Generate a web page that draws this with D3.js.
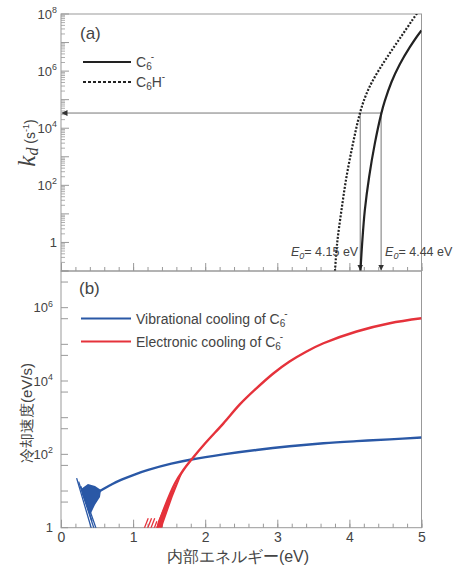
<!DOCTYPE html>
<html>
<head>
<meta charset="utf-8">
<script src="https://cdn.jsdelivr.net/npm/d3@7"></script>
<style>
body{margin:0;background:#fff;}
text{font-family:"Liberation Sans",Arial,sans-serif;fill:#444;}
</style>
</head>
<body>
<svg id="chart" width="457" height="567"></svg>
<script>
// ---- panel (a): dissociation rate k_d vs internal energy ----
const energy_C6 = [4.150, 4.177, 4.214, 4.274, 4.353, 4.443, 4.49, 4.584, 4.699, 4.838, 4.986, 5.0];
const kd_C6 = [0.071, 0.93, 13.5, 200, 2950, 33100, 89000, 417000, 1.74e6, 6.9e6, 2.4e7, 2.63e7];
const energy_C6H = [3.80, 3.83, 3.89, 3.96, 4.05, 4.145, 4.22, 4.31, 4.43, 4.57, 4.72, 4.86, 4.95];
const kd_C6H = [0.1, 0.93, 13.5, 200, 2950, 33100, 1.26e5, 4.0e5, 1.32e6, 4.6e6, 1.66e7, 5.5e7, 1.17e8];
const threshold_k = 3.4e4;
const E0_values = [4.15, 4.44];
const E0_labels = ["4.15 eV", "4.44 eV"];

// ---- panel (b): cooling rates ----
const energy_vib = [0.50, 0.60, 0.72, 0.84, 1.02, 1.21, 1.53, 1.81, 2.25, 2.71, 3.17, 3.64, 4.10, 4.56, 5.0];
const rate_vib = [8.9, 11.7, 15.8, 20.4, 28.2, 37.6, 55.6, 72.4, 100, 132, 166, 200, 229, 257, 288];
const energy_el = [1.33, 1.44, 1.58, 1.70, 1.81, 2.0, 2.25, 2.48, 2.71, 2.94, 3.17, 3.40, 3.64, 4.10, 4.56, 5.0];
const rate_el = [0.9, 3.7, 16, 38, 72, 200, 690, 2300, 6300, 15800, 33900, 63000, 107000, 224000, 376000, 513000];
// noisy low-energy parts of the simulation
const vib_fan = [[0.287, 11.8], [0.374, 15.5], [0.472, 13.7], [0.555, 10.6], [0.541, 6.9],
  [0.472, 4.2], [0.402, 2.2], [0.347, 4.2], [0.291, 8.3]];
const vib_streaks = [
  [[0.217, 22.4], [0.448, 0.63]],
  [[0.245, 18.0], [0.475, 0.75]],
  [[0.275, 13.5], [0.43, 1.5]],
  [[0.30, 11.0], [0.50, 0.8]]
];
const el_fan = [[1.70, 38], [1.55, 7], [1.42, 1.3], [1.39, 0.8], [1.31, 0.8], [1.35, 1.6], [1.46, 5], [1.62, 20]];
const el_streaks = [
  [[1.118, 0.63], [1.21, 1.82]],
  [[1.164, 0.63], [1.256, 1.82]],
  [[1.21, 0.63], [1.30, 1.82]],
  [[1.256, 0.63], [1.33, 1.5]]
];

const x_ticks = [0, 1, 2, 3, 4, 5];
const ka_labels = [1, 1e2, 1e4, 1e6, 1e8];
const kb_labels = [1, 1e2, 1e4, 1e6];

const blue = "#2a58a6", red = "#e5323b", axisCol = "#999";

const svg = d3.select("#chart");
const left = 61, right = 421.5;
const panelA = {top: 14, bottom: 271};
const panelB = {top: 271, bottom: 527.7};

const x = d3.scaleLinear().domain([0, 5]).range([left, right]);
const yA = d3.scaleLog().domain([0.1, 1e8]).range([panelA.bottom, panelA.top]);
const yB = d3.scaleLog().domain([1, 1e7]).range([panelB.bottom, panelB.top]);

const defs = svg.append("defs");
defs.append("clipPath").attr("id", "clipA").append("rect")
  .attr("x", left).attr("y", panelA.top).attr("width", right - left).attr("height", panelA.bottom - panelA.top);
defs.append("clipPath").attr("id", "clipB").append("rect")
  .attr("x", left).attr("y", panelB.top).attr("width", right - left).attr("height", panelB.bottom - panelB.top);
defs.append("marker").attr("id", "arrow")
  .attr("viewBox", "0 0 10 10").attr("refX", 10).attr("refY", 5)
  .attr("markerWidth", 6).attr("markerHeight", 6).attr("markerUnits", "userSpaceOnUse")
  .attr("orient", "auto-start-reverse")
  .append("path").attr("d", "M0,0L10,5L0,10Z").attr("fill", "#333");

/** x axes: major + minor ticks pointing up */
function xAxis(yPos, withLabels) {
  const gMinor = svg.append("g").attr("transform", `translate(0,${yPos})`)
    .call(d3.axisBottom(x).tickValues(d3.range(0, 5.01, 0.2)).tickSize(-4).tickFormat(""));
  gMinor.select(".domain").remove();
  gMinor.selectAll("line").attr("stroke", axisCol);
  const gMajor = svg.append("g").attr("transform", `translate(0,${yPos})`)
    .call(d3.axisBottom(x).tickValues(x_ticks).tickSize(-8).tickPadding(4)
      .tickFormat(withLabels ? d3.format("d") : ""));
  gMajor.select(".domain").remove();
  gMajor.selectAll("line").attr("stroke", axisCol);
  gMajor.selectAll("text").attr("font-size", 14).attr("fill", "#444")
    .attr("font-family", "Liberation Sans, Arial, sans-serif");
}

function logLabel(g, v, xp, yp, size) {
  const t = g.append("text").attr("x", xp).attr("y", yp).attr("text-anchor", "end")
    .attr("font-size", size).attr("dy", "0.35em");
  if (v === 1) { t.text("1"); return; }
  t.append("tspan").text("10");
  t.append("tspan").attr("font-size", size * 0.68).attr("dy", -size * 0.42).text(Math.round(Math.log10(v)));
}

// ---------- panel (a) ----------
xAxis(panelA.bottom, false);
const gA = svg.append("g");
// y ticks: decades + minors
const decA = d3.range(-1, 9).map(p => Math.pow(10, p));
const minorA = [];
d3.range(-1, 8).forEach(p => { for (let m = 2; m <= 9; m++) minorA.push(m * Math.pow(10, p)); });
gA.selectAll(".minA").data(minorA).join("line").attr("class", "minA")
  .attr("x1", left).attr("x2", left + 4).attr("y1", d => yA(d)).attr("y2", d => yA(d))
  .attr("stroke", axisCol).attr("stroke-width", 0.8);
gA.selectAll(".majA").data(decA).join("line").attr("class", "majA")
  .attr("x1", left).attr("x2", left + 8).attr("y1", d => yA(d)).attr("y2", d => yA(d))
  .attr("stroke", axisCol);
ka_labels.forEach(v => logLabel(gA, v, left - 4, yA(v), 13));

gA.append("rect").attr("x", left).attr("y", panelA.top).attr("width", right - left)
  .attr("height", panelA.bottom - panelA.top).attr("fill", "none").attr("stroke", axisCol);

// guide lines for E0
const guide = gA.append("g").attr("stroke", "#777").attr("stroke-width", 1).attr("fill", "none");
guide.append("line").attr("x1", x(E0_values[1])).attr("x2", left + 0.5)
  .attr("y1", yA(threshold_k)).attr("y2", yA(threshold_k)).attr("marker-end", "url(#arrow)");
E0_values.forEach(e => {
  guide.append("line").attr("x1", x(e)).attr("x2", x(e))
    .attr("y1", yA(threshold_k)).attr("y2", panelA.bottom - 0.5).attr("marker-end", "url(#arrow)");
});

const lineA = d3.line().x(d => x(d[0])).y(d => yA(d[1])).curve(d3.curveCatmullRom.alpha(0.5));
const curves = gA.append("g").attr("clip-path", "url(#clipA)").attr("fill", "none");
curves.append("path").datum(d3.zip(energy_C6, kd_C6)).attr("d", lineA)
  .attr("stroke", "#222").attr("stroke-width", 2.2);
curves.append("path").datum(d3.zip(energy_C6H, kd_C6H)).attr("d", lineA)
  .attr("stroke", "#222").attr("stroke-width", 2.2).attr("stroke-dasharray", "2,1.6");

// E0 labels
[[E0_values[0], "end", -2], [E0_values[1], "start", 4]].forEach((d, i) => {
  const t = gA.append("text").attr("x", x(d[0]) + d[2]).attr("y", 256)
    .attr("text-anchor", d[1]).attr("font-size", 12.5);
  t.append("tspan").attr("font-style", "italic").text("E");
  t.append("tspan").attr("font-style", "italic").attr("font-size", 9).attr("dy", 3).text("0");
  t.append("tspan").attr("dy", -3).text("= " + E0_labels[i]);
});

gA.append("text").attr("x", 80).attr("y", 39).attr("font-size", 17).text("(a)");
// legend (a)
gA.append("line").attr("x1", 83).attr("x2", 131).attr("y1", 62).attr("y2", 62)
  .attr("stroke", "#222").attr("stroke-width", 1.8);
gA.append("line").attr("x1", 83).attr("x2", 131).attr("y1", 82).attr("y2", 82)
  .attr("stroke", "#222").attr("stroke-width", 1.8).attr("stroke-dasharray", "3,2");
function chemLabel(g, xp, yp, withH, size) {
  const t = g.append("text").attr("x", xp).attr("y", yp).attr("font-size", size);
  t.append("tspan").text("C");
  t.append("tspan").attr("font-size", size * 0.72).attr("dy", 3).text("6");
  if (withH) {
    t.append("tspan").attr("dy", -3).text("H");
    t.append("tspan").attr("font-size", size * 0.72).attr("dy", -7).text("-");
  } else {
    t.append("tspan").attr("font-size", size * 0.72).attr("dy", -10).attr("dx", -1).text("-");
  }
  return t;
}
chemLabel(gA, 136, 67, false, 14);
chemLabel(gA, 136, 87, true, 14);

// y title (a)
const ttlA = svg.append("text").attr("transform", "translate(35,143) rotate(-90)")
  .attr("text-anchor", "middle");
ttlA.append("tspan").attr("font-family", "Liberation Serif, Times New Roman, serif")
  .attr("font-style", "italic").attr("font-size", 25).text("k");
ttlA.append("tspan").attr("font-family", "Liberation Serif, Times New Roman, serif")
  .attr("font-style", "italic").attr("font-size", 16).attr("dy", 3).text("d");
ttlA.append("tspan").attr("font-size", 14).attr("dy", -3).text(" (s");
ttlA.append("tspan").attr("font-size", 9).attr("dy", -6).text("-1");
ttlA.append("tspan").attr("font-size", 14).attr("dy", 6).text(")");

// ---------- panel (b) ----------
xAxis(panelB.bottom, true);
const gB = svg.append("g");
const decB = d3.range(0, 8).map(p => Math.pow(10, p));
const halfB = d3.range(0, 7).map(p => 5 * Math.pow(10, p));
gB.selectAll(".tkB").data(decB.concat(halfB)).join("line").attr("class", "tkB")
  .attr("x1", left).attr("x2", left + 7).attr("y1", d => yB(d)).attr("y2", d => yB(d))
  .attr("stroke", axisCol);
kb_labels.forEach(v => logLabel(gB, v, left - 8, yB(v), 13));
gB.append("rect").attr("x", left).attr("y", panelB.top).attr("width", right - left)
  .attr("height", panelB.bottom - panelB.top).attr("fill", "none").attr("stroke", axisCol);

const plotB = gB.append("g").attr("clip-path", "url(#clipB)");
const closed = d3.line().x(d => x(d[0])).y(d => yB(d[1])).curve(d3.curveLinearClosed);
const seg = d3.line().x(d => x(d[0])).y(d => yB(d[1]));
plotB.append("path").datum(vib_fan).attr("d", closed).attr("fill", blue);
plotB.selectAll(".vs").data(vib_streaks).join("path").attr("class", "vs")
  .attr("d", seg).attr("stroke", blue).attr("stroke-width", 1.3).attr("fill", "none");
plotB.append("path").datum(el_fan).attr("d", closed).attr("fill", red);
plotB.selectAll(".es").data(el_streaks).join("path").attr("class", "es")
  .attr("d", seg).attr("stroke", red).attr("stroke-width", 1.3).attr("fill", "none");
const smooth = d3.line().x(d => x(d[0])).y(d => yB(d[1])).curve(d3.curveCatmullRom.alpha(0.5));
plotB.append("path").datum(d3.zip(energy_vib, rate_vib)).attr("d", smooth)
  .attr("stroke", blue).attr("stroke-width", 2.4).attr("fill", "none");
plotB.append("path").datum(d3.zip(energy_el, rate_el)).attr("d", smooth)
  .attr("stroke", red).attr("stroke-width", 2.4).attr("fill", "none");

gB.append("text").attr("x", 79).attr("y", 294).attr("font-size", 17).text("(b)");
gB.append("line").attr("x1", 81).attr("x2", 131).attr("y1", 318.5).attr("y2", 318.5)
  .attr("stroke", blue).attr("stroke-width", 2);
gB.append("line").attr("x1", 81).attr("x2", 131).attr("y1", 341.5).attr("y2", 341.5)
  .attr("stroke", red).attr("stroke-width", 2);
[["Vibrational cooling of ", 324], ["Electronic cooling of ", 347]].forEach(d => {
  const t = gB.append("text").attr("x", 136).attr("y", d[1]).attr("font-size", 14);
  t.append("tspan").text(d[0] + "C");
  t.append("tspan").attr("font-size", 10).attr("dy", 3).text("6");
  t.append("tspan").attr("font-size", 10).attr("dy", -10).attr("dx", -1).text("-");
});

svg.append("text").attr("transform", "translate(32,413) rotate(-90)")
  .attr("text-anchor", "middle").attr("font-size", 15)
  .attr("font-family", "Noto Sans CJK JP, sans-serif").text("冷却速度(eV/s)");
svg.append("text").attr("x", 238).attr("y", 562).attr("text-anchor", "middle")
  .attr("font-size", 16).attr("font-family", "Noto Sans CJK JP, sans-serif").text("内部エネルギー(eV)");
</script>
</body>
</html>
